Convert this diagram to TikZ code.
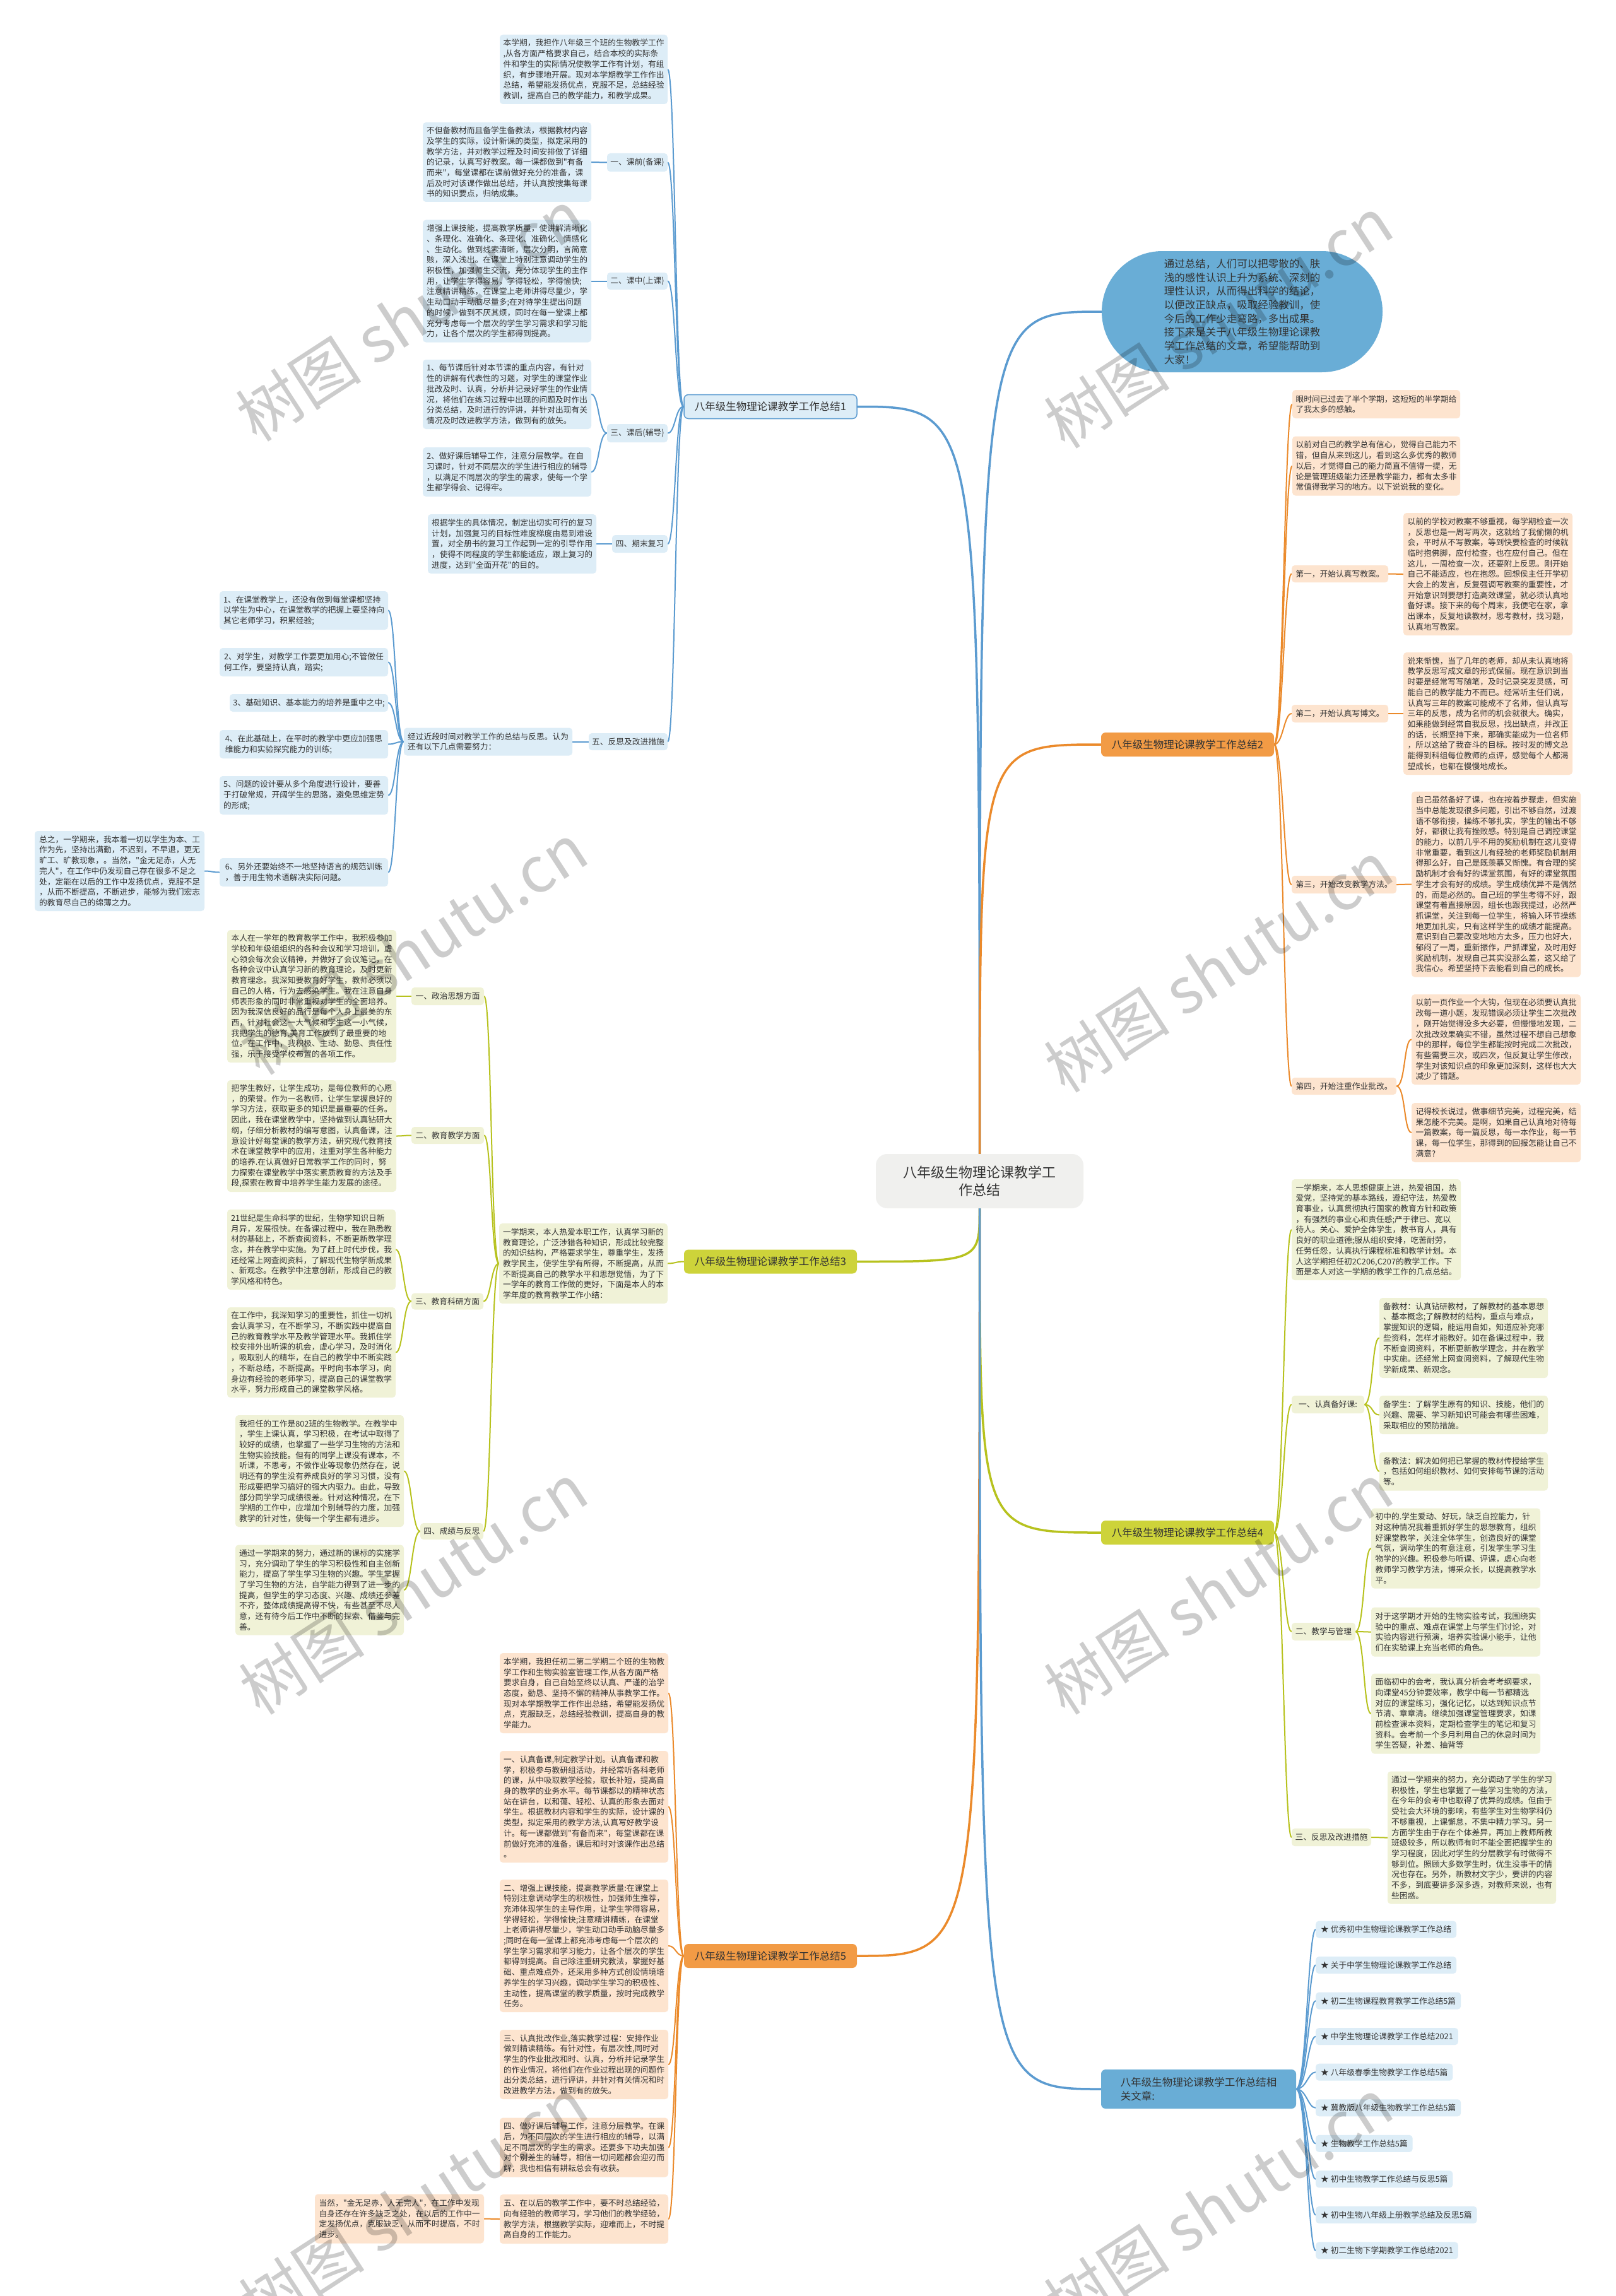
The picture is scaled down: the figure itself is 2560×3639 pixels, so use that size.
\documentclass[tikz,border=0pt]{standalone}
\usepackage{fontspec}
\newfontfamily\zh{Noto Sans CJK SC}
\usetikzlibrary{backgrounds}
\definecolor{ink}{HTML}{333333}
\definecolor{blueln}{HTML}{5B9BD0}
\definecolor{bluebg}{HTML}{DDEDF7}
\definecolor{bluetop}{HTML}{69ADD6}
\definecolor{orgln}{HTML}{EB8A2B}
\definecolor{orgbg}{HTML}{FDE4CF}
\definecolor{orgtop}{HTML}{F29B45}
\definecolor{grnln}{HTML}{B7C21E}
\definecolor{grnbg}{HTML}{F0F2D7}
\definecolor{grntop}{HTML}{CDD33A}
\definecolor{hubbg}{HTML}{F0F0EE}
\newcommand\bodyfont{\zh\fontsize{12.75pt}{16.7pt}\selectfont}
\newcommand\topfont{\zh\fontsize{16.5pt}{21.7pt}\selectfont}
\tikzset{sz/.style 2 args={minimum width=#1pt, minimum height=#2pt},
  card/.style={rounded corners=5pt, inner sep=5pt, align=left, text=ink, font=\bodyfont},
  bcard/.style={card, fill=bluebg}, ocard/.style={card, fill=orgbg}, gcard/.style={card, fill=grnbg},
  topic/.style={rounded corners=7pt, inner sep=6pt, align=left, text=ink, font=\topfont, minimum width=274pt, minimum height=38pt},
  wire/.style={line width=2pt, line cap=round},
  trunk/.style={line width=3.5pt, line cap=round},
  wmark/.style={font=\zh\fontsize{100pt}{100pt}\selectfont, text=black, text opacity=0.2, rotate=33}}

\begin{document}
\begin{tikzpicture}[x=1pt, y=-1pt]
  \useasboundingbox (0,0) rectangle (2560,3639);
  \node[fill=hubbg, rounded corners=18pt, sz={329}{86}, align=center, text=ink, font=\zh\fontsize{22pt}{28pt}\selectfont] (hub) at (1552.5,1872) {八年级生物理论课教学工\\作总结};
  \node[fill=bluetop, rounded corners=96pt, sz={445}{192}, align=left, text=ink, font=\topfont] (intro) at (1968.5,494) {通过总结，人们可以把零散的、肤\\浅的感性认识上升为系统、深刻的\\理性认识，从而得出科学的结论，\\以便改正缺点，吸取经验教训，使\\今后的工作少走弯路，多出成果。\\接下来是关于八年级生物理论课教\\学工作总结的文章，希望能帮助到\\大家！};

  % branch 1
  \node[topic, fill=bluebg, draw=blueln, line width=1.5pt] (b1) at (1221,644.5) {八年级生物理论课教学工作总结1};
  \node[bcard, sz={266}{110}] (b1n0) at (925,110) {本学期，我担作八年级三个班的生物教学工作\\,从各方面严格要求自己，结合本校的实际条\\件和学生的实际情况使教学工作有计划，有组\\织，有步骤地开展。现对本学期教学工作作出\\总结，希望能发扬优点，克服不足，总结经验\\教训，提高自己的教学能力，和教学成果。};
  \node[bcard, sz={96}{29}] (b1s1) at (1010,257.5) {一、课前(备课)};
  \node[bcard, sz={267}{126}] (b1s1t) at (803.5,257) {不但备教材而且备学生备教法，根据教材内容\\及学生的实际，设计新课的类型，拟定采用的\\教学方法，并对教学过程及时间安排做了详细\\的记录，认真写好教案。每一课都做到"有备\\而来"，每堂课都在课前做好充分的准备，课\\后及时对该课作做出总结，并认真按搜集每课\\书的知识要点，归纳成集。};
  \node[bcard, sz={96}{27}] (b1s2) at (1010,445.5) {二、课中(上课)};
  \node[bcard, sz={267}{194}] (b1s2t) at (803.5,445.5) {增强上课技能，提高教学质量，使讲解清晰化\\、条理化、准确化、条理化、准确化、情感化\\、生动化。做到线索清晰，层次分明，言简意\\赅，深入浅出。在课堂上特别注意调动学生的\\积极性，加强师生交流，充分体现学生的主作\\用，让学生学得容易，学得轻松，学得愉快;\\注意精讲精练，在课堂上老师讲得尽量少，学\\生动口动手动脑尽量多;在对待学生提出问题\\的时候，做到不厌其烦，同时在每一堂课上都\\充分考虑每一个层次的学生学习需求和学习能\\力，让各个层次的学生都得到提高。};
  \node[bcard, sz={96}{29}] (b1s3) at (1010,686.5) {三、课后(辅导)};
  \node[bcard, sz={267}{110}] (b1s3a) at (803.5,625) {1、每节课后针对本节课的重点内容，有针对\\性的讲解有代表性的习题，对学生的课堂作业\\批改及时、认真，分析并记录好学生的作业情\\况，将他们在练习过程中出现的问题及时作出\\分类总结，及时进行的评讲，并针对出现有关\\情况及时改进教学方法，做到有的放矢。};
  \node[bcard, sz={267}{78}] (b1s3b) at (803.5,748) {2、做好课后辅导工作，注意分层教学。在自\\习课时，针对不同层次的学生进行相应的辅导\\，以满足不同层次的学生的需求，使每一个学\\生都学得会、记得牢。};
  \node[bcard, sz={88}{28}] (b1s4) at (1014,862) {四、期末复习};
  \node[bcard, sz={267}{94}] (b1s4t) at (811.5,862) {根据学生的具体情况，制定出切实可行的复习\\计划，加强复习的目标性难度梯度由易到难设\\置，对全册书的复习工作起到一定的引导作用\\，使得不同程度的学生都能适应，跟上复习的\\进度，达到"全面开花"的目的。};
  \node[bcard, sz={125}{27}] (b1s5) at (995.5,1175.5) {五、反思及改进措施};
  \node[bcard, sz={267}{44}] (b1s5t) at (773.5,1175.5) {经过近段时间对教学工作的总结与反思。认为\\还有以下几点需要努力：};
  \node[bcard, sz={267}{61}] (b1k1) at (481.5,967.5) {1、在课堂教学上，还没有做到每堂课都坚持\\以学生为中心，在课堂教学的把握上要坚持向\\其它老师学习，积累经验;};
  \node[bcard, sz={267}{45}] (b1k2) at (481.5,1049.5) {2、对学生，对教学工作要更加用心;不管做任\\何工作，要坚持认真，踏实;};
  \node[bcard, sz={251}{28}] (b1k3) at (489.5,1114) {3、基础知识、基本能力的培养是重中之中;};
  \node[bcard, sz={267}{45}] (b1k4) at (481.5,1179.5) {4、在此基础上，在平时的教学中更应加强思\\维能力和实验探究能力的训练;};
  \node[bcard, sz={267}{61}] (b1k5) at (481.5,1260.5) {5、问题的设计要从多个角度进行设计，要善\\于打破常规，开阔学生的思路，避免思维定势\\的形成;};
  \node[bcard, sz={267}{45}] (b1k6) at (481.5,1382.5) {6、另外还要始终不一地坚持语言的规范训练\\，善于用生物术语解决实际问题。};
  \node[bcard, sz={269}{127}] (b1end) at (189.5,1380.5) {总之，一学期来，我本着一切以学生为本、工\\作为先，坚持出满勤，不迟到，不早退，更无\\旷工、旷教现象，。当然，"金无足赤，人无\\完人"，在工作中仍发现自己存在很多不足之\\处，定能在以后的工作中发扬优点，克服不足\\，从而不断提高，不断进步，能够为我们宏志\\的教育尽自己的绵薄之力。};

  % branch 3
  \node[topic, fill=grntop] (b3) at (1221,1999.5) {八年级生物理论课教学工作总结3};
  \node[gcard, sz={267}{127}] (b3n0) at (924.5,2002.5) {一学期来，本人热爱本职工作，认真学习新的\\教育理论，广泛涉猎各种知识，形成比较完整\\的知识结构，严格要求学生，尊重学生，发扬\\教学民主，使学生学有所得，不断提高，从而\\不断提高自己的教学水平和思想觉悟，为了下\\一学年的教育工作做的更好，下面是本人的本\\学年度的教育教学工作小结：};
  \node[gcard, sz={115}{28}] (b3s1) at (709.5,1579) {一、政治思想方面};
  \node[gcard, sz={268}{210}] (b3s1t) at (494,1579) {本人在一学年的教育教学工作中，我积极参加\\学校和年级组组织的各种会议和学习培训，虚\\心领会每次会议精神，并做好了会议笔记，在\\各种会议中认真学习新的教育理论，及时更新\\教育理念。我深知要教育好学生，教师必须以\\自己的人格，行为去感染学生。我在注意自身\\师表形象的同时非常重视对学生的全面培养。\\因为我深信良好的品行是每个人身上最美的东\\西，针对社会这一大气候和学生这一小气候，\\我把学生的德育,美育工作放到了最重要的地\\位。在工作中，我积极、主动、勤恳、责任性\\强，乐于接受学校布置的各项工作。};
  \node[gcard, sz={115}{27}] (b3s2) at (709.5,1799.5) {二、教育教学方面};
  \node[gcard, sz={268}{177}] (b3s2t) at (494,1800.5) {把学生教好，让学生成功，是每位教师的心愿\\，的荣誉。作为一名教师，让学生掌握良好的\\学习方法，获取更多的知识是最重要的任务。\\因此，我在课堂教学中，坚持做到认真钻研大\\纲，仔细分析教材的编写意图，认真备课，注\\意设计好每堂课的教学方法，研究现代教育技\\术在课堂教学中的应用，注重对学生各种能力\\的培养.在认真做好日常教学工作的同时，努\\力探索在课堂教学中落实素质教育的方法及手\\段,探索在教育中培养学生能力发展的途径。};
  \node[gcard, sz={114}{26}] (b3s3) at (709,2062.5) {三、教育科研方面};
  \node[gcard, sz={267}{127}] (b3s3a) at (493.5,1980.5) {21世纪是生命科学的世纪，生物学知识日新\\月异，发展很快。在备课过程中，我在熟悉教\\材的基础上，不断查阅资料，不断更新教学理\\念，并在教学中实施。为了赶上时代步伐，我\\还经常上网查阅资料，了解现代生物学新成果\\、新观念。在教学中注意创新，形成自己的教\\学风格和特色。};
  \node[gcard, sz={267}{143}] (b3s3b) at (493.5,2143.5) {在工作中，我深知学习的重要性，抓住一切机\\会认真学习，在不断学习，不断实践中提高自\\己的教育教学水平及教学管理水平。我抓住学\\校安排外出听课的机会，虚心学习，及时消化\\，吸取别人的精华，在自己的教学中不断实践\\，不断总结，不断提高。平时向书本学习，向\\身边有经验的老师学习，提高自己的课堂教学\\水平，努力形成自己的课堂教学风格。};
  \node[gcard, sz={100}{26}] (b3s4) at (716,2427) {四、成绩与反思};
  \node[gcard, sz={267}{177}] (b3s4a) at (506.5,2331.5) {我担任的工作是802班的生物教学。在教学中\\，学生上课认真，学习积极，在考试中取得了\\较好的成绩，也掌握了一些学习生物的方法和\\生物实验技能。但有的同学上课没有课本，不\\听课，不思考，不做作业等现象仍然存在，说\\明还有的学生没有养成良好的学习习惯，没有\\形成要把学习搞好的强大内驱力。由此，导致\\部分同学学习成绩很差。针对这种情况，在下\\学期的工作中，应增加个别辅导的力度，加强\\教学的针对性，使每一个学生都有进步。};
  \node[gcard, sz={267}{143}] (b3s4b) at (506.5,2520) {通过一学期来的努力，通过新的课标的实施学\\习，充分调动了学生的学习积极性和自主创新\\能力，提高了学生学习生物的兴趣。学生掌握\\了学习生物的方法，自学能力得到了进一步的\\提高，但学生的学习态度、兴趣、成绩还参差\\不齐，整体成绩提高得不快，有些甚至不尽人\\意，还有待今后工作中不断的探索、借鉴与完\\善。};

  % branch 5
  \node[topic, fill=orgtop] (b5) at (1221,3100) {八年级生物理论课教学工作总结5};
  \node[ocard, sz={267}{127}] (b5n0) at (925.5,2683.5) {本学期，我担任初二第二学期二个班的生物教\\学工作和生物实验室管理工作,从各方面严格\\要求自身，自己自始至终以认真、严谨的治学\\态度，勤恳、坚持不懈的精神从事教学工作。\\现对本学期教学工作作出总结，希望能发扬优\\点，克服缺乏，总结经验教训，提高自身的教\\学能力。};
  \node[ocard, sz={267}{177}] (b5s1) at (925.5,2863.5) {一、认真备课,制定教学计划。认真备课和教\\学，积极参与教研组活动，并经常听各科老师\\的课，从中吸取教学经验，取长补短，提高自\\身的教学的业务水平。每节课都以的精神状态\\站在讲台，以和蔼、轻松、认真的形象去面对\\学生。根据教材内容和学生的实际，设计课的\\类型，拟定采用的教学方法,认真写好教学设\\计。每一课都做到"有备而来"，每堂课都在课\\前做好充沛的准备，课后和时对该课作出总结\\。};
  \node[ocard, sz={267}{210}] (b5s2) at (925.5,3084) {二、增强上课技能，提高教学质量:在课堂上\\特别注意调动学生的积极性，加强师生推荐，\\充沛体现学生的主导作用，让学生学得容易，\\学得轻松，学得愉快;注意精讲精练，在课堂\\上老师讲得尽量少，学生动口动手动脑尽量多\\;同时在每一堂课上都充沛考虑每一个层次的\\学生学习需求和学习能力，让各个层次的学生\\都得到提高。自己除注重研究教法，掌握好基\\础、重点难点外，还采用多种方式创设情境培\\养学生的学习兴趣，调动学生学习的积极性、\\主动性，提高课堂的教学质量，按时完成教学\\任务。};
  \node[ocard, sz={267}{110}] (b5s3) at (925.5,3272) {三、认真批改作业,落实教学过程：安排作业\\做到精读精练。有针对性，有层次性,同时对\\学生的作业批改和时、认真，分析并记录学生\\的作业情况，将他们在作业过程出现的问题作\\出分类总结，进行评讲，并针对有关情况和时\\改进教学方法，做到有的放矢。};
  \node[ocard, sz={267}{94}] (b5s4) at (925.5,3403.5) {四、做好课后辅导工作，注意分层教学。在课\\后，为不同层次的学生进行相应的辅导，以满\\足不同层次的学生的需求。还要多下功夫加强\\对个别差生的辅导，相信一切问题都会迎刃而\\解，我也相信有耕耘总会有收获。};
  \node[ocard, sz={267}{78}] (b5s5) at (925.5,3517) {五、在以后的教学工作中，要不时总结经验，\\向有经验的教师学习，学习他们的教学经验，\\教学方法，根据教学实际，迎难而上，不时提\\高自身的工作能力。};
  \node[ocard, sz={268}{78}] (b5end) at (633,3516.5) {当然，"金无足赤，人无完人"，在工作中发现\\自身还存在许多缺乏之处，在以后的工作中一\\定发扬优点，克服缺乏，从而不时提高，不时\\进步。};

  % branch 2
  \node[topic, fill=orgtop] (b2) at (1882,1180) {八年级生物理论课教学工作总结2};
  \node[ocard, sz={266}{45}] (b2n1) at (2181,640.5) {眼时间已过去了半个学期，这短短的半学期给\\了我太多的感触。};
  \node[ocard, sz={266}{94}] (b2n2) at (2181,738.5) {以前对自己的教学总有信心，觉得自己能力不\\错，但自从来到这儿，看到这么多优秀的教师\\以后，才觉得自己的能力简直不值得一提，无\\论是管理班级能力还是教学能力，都有太多非\\常值得我学习的地方。以下说说我的变化。};
  \node[ocard, sz={153}{27}] (b2s1) at (2123.5,909.5) {第一，开始认真写教案。};
  \node[ocard, sz={268}{194}] (b2s1t) at (2358,910) {以前的学校对教案不够重视，每学期检查一次\\，反思也是一周写两次，这就给了我偷懒的机\\会，平时从不写教案，等到快要检查的时候就\\临时抱佛脚，应付检查，也在应付自己。但在\\这儿，一周检查一次，还要附上反思。刚开始\\自己不能适应，也在抱怨。回想侯主任开学初\\大会上的发言，反复强调写教案的重要性，才\\开始意识到要想打造高效课堂，就必须认真地\\备好课。接下来的每个周末，我便宅在家，拿\\出课本，反复地读教材，思考教材，找习题，\\认真地写教案。};
  \node[ocard, sz={153}{28}] (b2s2) at (2123.5,1131) {第二，开始认真写博文。};
  \node[ocard, sz={268}{194}] (b2s2t) at (2358,1131) {说来惭愧，当了几年的老师，却从未认真地将\\教学反思写成文章的形式保留。现在意识到当\\时要是经常写写随笔，及时记录突发灵感，可\\能自己的教学能力不而已。经常听主任们说，\\认真写三年的教案可能成不了名师，但认真写\\三年的反思，成为名师的机会就很大。确实，\\如果能做到经常自我反思，找出缺点，并改正\\的话，长期坚持下来，那确实能成为一位名师\\，所以这给了我奋斗的目标。按时发的博文总\\能得到科组每位教师的点评，感觉每个人都渴\\望成长，也都在慢慢地成长。};
  \node[ocard, sz={166}{28}] (b2s3) at (2130,1402) {第三，开始改变教学方法。};
  \node[ocard, sz={268}{294}] (b2s3t) at (2371,1401.5) {自己虽然备好了课，也在按着步骤走，但实施\\当中总能发现很多问题，引出不够自然，过渡\\语不够衔接，操练不够扎实，学生的输出不够\\好，都很让我有挫败感。特别是自己调控课堂\\的能力，以前几乎不用的奖励机制在这儿变得\\非常重要，看到这儿有经验的老师奖励机制用\\得那么好，自己是既羡慕又惭愧。有合理的奖\\励机制才会有好的课堂氛围，有好的课堂氛围\\学生才会有好的成绩。学生成绩优异不是偶然\\的，而是必然的。自己班的学生考得不好，跟\\课堂有着直接原因，组长也跟我提过，必然严\\抓课堂，关注到每一位学生，将输入环节操练\\地更加扎实，只有这样学生的成绩才能提高。\\意识到自己要改变地地方太多，压力也好大，\\郁闷了一周，重新振作，严抓课堂，及时用好\\奖励机制，发现自己其实没那么差，这又给了\\我信心。希望坚持下去能看到自己的成长。};
  \node[ocard, sz={166}{27}] (b2s4) at (2130,1721.5) {第四，开始注重作业批改。};
  \node[ocard, sz={268}{143}] (b2s4a) at (2371,1647.5) {以前一页作业一个大钩，但现在必须要认真批\\改每一道小题，发现错误必须让学生二次批改\\，刚开始觉得没多大必要，但慢慢地发现，二\\次批改效果确实不错，虽然过程不想自己想象\\中的那样，每位学生都能按时完成二次批改，\\有些需要三次，或四次，但反复让学生修改，\\学生对该知识点的印象更加深刻，这样也大大\\减少了错题。};
  \node[ocard, sz={268}{94}] (b2s4b) at (2371,1795) {记得校长说过，做事细节完美，过程完美，结\\果怎能不完美。是啊，如果自己认真地对待每\\一篇教案，每一篇反思，每一本作业，每一节\\课，每一位学生，那得到的回报怎能让自己不\\满意?};

  % branch 4
  \node[topic, fill=grntop] (b4) at (1882,2429) {八年级生物理论课教学工作总结4};
  \node[gcard, sz={268}{160}] (b4n0) at (2181,1949) {一学期来，本人思想健康上进，热爱祖国，热\\爱党，坚持党的基本路线，遵纪守法，热爱教\\育事业，认真贯彻执行国家的教育方针和政策\\，有强烈的事业心和责任感;严于律已、宽以\\待人。关心、爱护全体学生，教书育人，具有\\良好的职业道德;服从组织安排，吃苦耐劳，\\任劳任怨，认真执行课程标准和教学计划。本\\人这学期担任初2C206,C207的教学工作。下\\面是本人对这一学期的教学工作的几点总结。};
  \node[gcard, sz={115}{28}] (b4s1) at (2104.5,2226) {一、认真备好课:};
  \node[gcard, sz={267}{127}] (b4s1a) at (2319.5,2120.5) {备教材：认真钻研教材，了解教材的基本思想\\、基本概念;了解教材的结构，重点与难点，\\掌握知识的逻辑，能运用自如，知道应补充哪\\些资料，怎样才能教好。如在备课过程中，我\\不断查阅资料，不断更新教学理念，并在教学\\中实施。还经常上网查阅资料，了解现代生物\\学新成果、新观念。};
  \node[gcard, sz={267}{61}] (b4s1b) at (2319.5,2242.5) {备学生：了解学生原有的知识、技能，他们的\\兴趣、需要、学习新知识可能会有哪些困难，\\采取相应的预防措施。};
  \node[gcard, sz={267}{61}] (b4s1c) at (2319.5,2332) {备教法：解决如何把已掌握的教材传授给学生\\，包括如何组织教材、如何安排每节课的活动\\等。};
  \node[gcard, sz={101}{28}] (b4s2) at (2097.5,2586) {二、教学与管理};
  \node[gcard, sz={268}{127}] (b4s2a) at (2307,2454) {初中的.学生爱动、好玩，缺乏自控能力，针\\对这种情况我着重抓好学生的思想教育，组织\\好课堂教学，关注全体学生，创造良好的课堂\\气氛，调动学生的有意注意，引发学生学习生\\物学的兴趣。积极参与听课、评课，虚心向老\\教师学习教学方法，博采众长，以提高教学水\\平。};
  \node[gcard, sz={268}{78}] (b4s2b) at (2307,2586.5) {对于这学期才开始的生物实验考试，我围绕实\\验中的重点、难点在课堂上与学生们讨论，对\\实验内容进行预演，培养实验课小能手，让他\\们在实验课上充当老师的角色。};
  \node[gcard, sz={268}{127}] (b4s2c) at (2307,2716) {面临初中的会考，我认真分析会考考纲要求，\\向课堂45分钟要效率，教学中每一节都精选\\对应的课堂练习，强化记忆，以达到知识点节\\节清、章章清。继续加强课堂管理要求，如课\\前检查课本资料，定期检查学生的笔记和复习\\资料。会考前一个多月利用自己的休息时间为\\学生答疑，补差、抽背等};
  \node[gcard, sz={126}{28}] (b4s3) at (2110,2912) {三、反思及改进措施};
  \node[gcard, sz={267}{210}] (b4s3t) at (2332.5,2912.5) {通过一学期来的努力，充分调动了学生的学习\\积极性，学生也掌握了一些学习生物的方法，\\在今年的会考中也取得了优异的成绩。但由于\\受社会大环境的影响，有些学生对生物学科仍\\不够重视，上课懈怠，不集中精力学习。另一\\方面学生由于存在个体差异，再加上教师所教\\班级较多，所以教师有时不能全面把握学生的\\学习程度，因此对学生的分层教学有时做得不\\够到位。照顾大多数学生时，优生没事干的情\\况也存在。另外，新教材文字少，要讲的内容\\不多，到底要讲多深多透，对教师来说，也有\\些困惑。};

  % related articles
  \node[topic, fill=bluetop, sz={309}{62}] (b6) at (1899.5,3311) {八年级生物理论课教学工作总结相\\关文章:};
  \foreach \t [count=\i] in {优秀初中生物理论课教学工作总结, 关于中学生物理论课教学工作总结, 初二生物课程教育教学工作总结5篇, 中学生物理论课教学工作总结2021, 八年级春季生物教学工作总结5篇, 冀教版八年级生物教学工作总结5篇, 生物教学工作总结5篇, 初中生物教学工作总结与反思5篇, 初中生物八年级上册教学总结及反思5篇, 初二生物下学期教学工作总结2021}
    \node[bcard, anchor=west, minimum height=27pt, inner xsep=8pt] (r\i) at (2085,{3058+(\i-1)*56.55}) {★ \t};

  \begin{scope}[on background layer]
    \fill[white] (0,0) rectangle (2560,3639);
    \draw[trunk, blueln] (hub) .. controls (hub |- intro) .. (intro.west);
    \draw[trunk, blueln] (hub) .. controls (hub |- b1) .. (b1.east);
    \draw[trunk, orgln] (hub) .. controls (hub |- b2) .. (b2.west);
    \draw[trunk, grnln] (hub) .. controls (hub |- b3) .. (b3.east);
    \draw[trunk, grnln] (hub) .. controls (hub |- b4) .. (b4.west);
    \draw[trunk, orgln] (hub) .. controls (hub |- b5) .. (b5.east);
    \draw[trunk, blueln] (hub) .. controls (hub |- b6) .. (b6.west);
    % left side: parent west -> child east
    \foreach \p/\c/\col in {b1/b1n0/blueln, b1/b1s1/blueln, b1/b1s2/blueln, b1/b1s3/blueln, b1/b1s4/blueln, b1/b1s5/blueln,
        b1s1/b1s1t/blueln, b1s2/b1s2t/blueln, b1s3/b1s3a/blueln, b1s3/b1s3b/blueln, b1s4/b1s4t/blueln, b1s5/b1s5t/blueln,
        b1s5t/b1k1/blueln, b1s5t/b1k2/blueln, b1s5t/b1k3/blueln, b1s5t/b1k4/blueln, b1s5t/b1k5/blueln, b1s5t/b1k6/blueln, b1k6/b1end/blueln,
        b3/b3n0/grnln, b3n0/b3s1/grnln, b3n0/b3s2/grnln, b3n0/b3s3/grnln, b3n0/b3s4/grnln,
        b3s1/b3s1t/grnln, b3s2/b3s2t/grnln, b3s3/b3s3a/grnln, b3s3/b3s3b/grnln, b3s4/b3s4a/grnln, b3s4/b3s4b/grnln,
        b5/b5n0/orgln, b5/b5s1/orgln, b5/b5s2/orgln, b5/b5s3/orgln, b5/b5s4/orgln, b5/b5s5/orgln, b5s5/b5end/orgln}
      \draw[wire, \col] (\p.west) .. controls +(-13,0) and +(12,0) .. (\c.east);
    % right side: parent east -> child west
    \foreach \p/\c/\col in {b2/b2n1/orgln, b2/b2n2/orgln, b2/b2s1/orgln, b2/b2s2/orgln, b2/b2s3/orgln, b2/b2s4/orgln,
        b2s1/b2s1t/orgln, b2s2/b2s2t/orgln, b2s3/b2s3t/orgln, b2s4/b2s4a/orgln, b2s4/b2s4b/orgln,
        b4/b4n0/grnln, b4/b4s1/grnln, b4/b4s2/grnln, b4/b4s3/grnln,
        b4s1/b4s1a/grnln, b4s1/b4s1b/grnln, b4s1/b4s1c/grnln, b4s2/b4s2a/grnln, b4s2/b4s2b/grnln, b4s2/b4s2c/grnln, b4s3/b4s3t/grnln}
      \draw[wire, \col] (\p.east) .. controls +(14,0) and +(-12,0) .. (\c.west);
    \foreach \i in {1,...,10}
      \draw[wire, blueln] (b6.east) .. controls +(16,0) and +(-12,0) .. (r\i.west);
  \end{scope}

  % watermark
  \foreach \x/\y [count=\k] in {650/500, 1931/511, 655/1504, 1931/1532, 655/2518, 1931/2518, 655/3493, 1931/3493}
    \node[wmark] (wm\k) at (\x,\y) {树图 shutu.cn};
\end{tikzpicture}
\end{document}
